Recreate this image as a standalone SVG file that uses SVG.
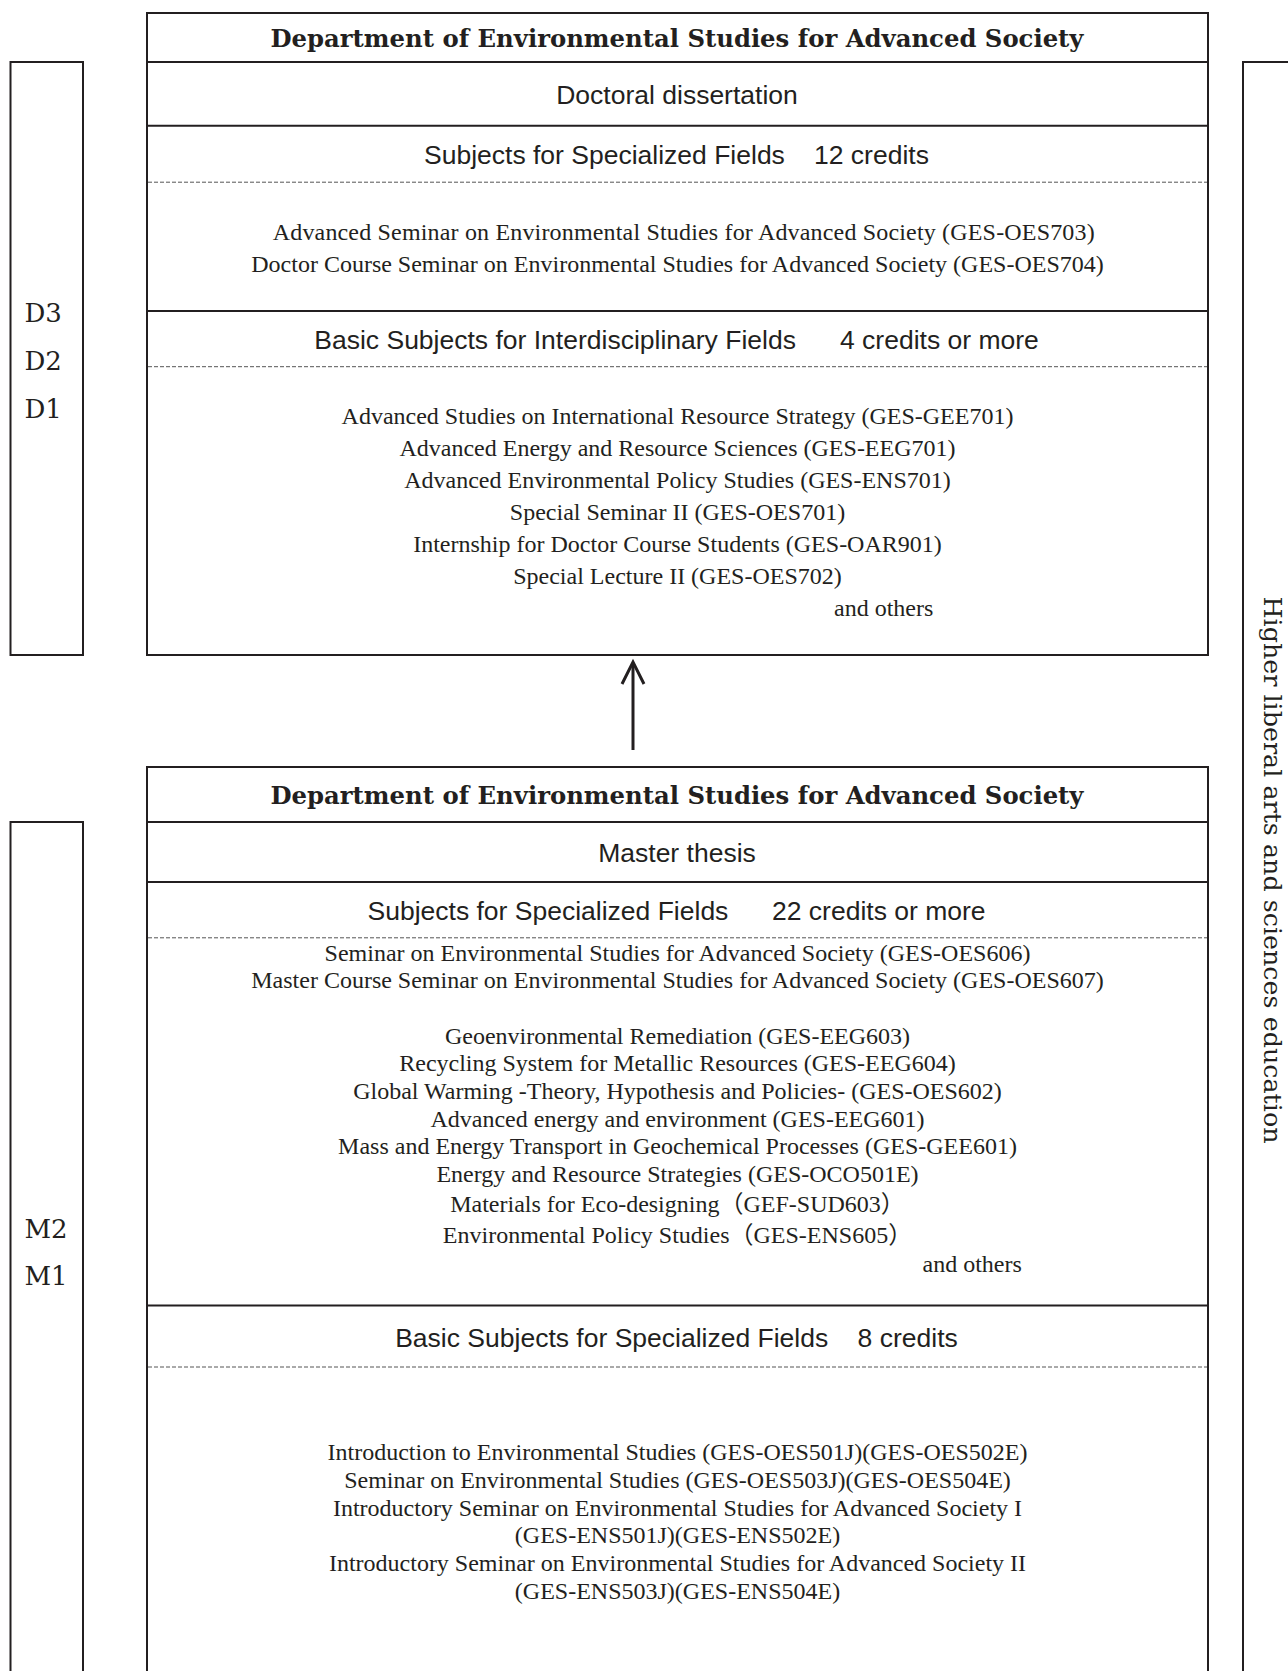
<svg xmlns="http://www.w3.org/2000/svg" width="1288" height="1671" viewBox="0 0 1288 1671">
<style>
.box{fill:none;stroke:#231f20;stroke-width:2}
.sep{stroke:#231f20;stroke-width:2}
.dash{stroke:#555;stroke-width:1;stroke-dasharray:4 2}
.hd{font-family:"DejaVu Serif Condensed","DejaVu Serif",serif;font-weight:bold;font-size:25px;fill:#231f20;text-anchor:middle}
.yr{font-family:"DejaVu Serif",serif;font-size:26px;fill:#231f20}
.sn{font-family:"Liberation Sans",Arial,sans-serif;font-size:26.5px;fill:#231f20}
.sr{font-family:"Liberation Serif","Noto Sans CJK JP",serif;font-size:24px;fill:#231f20;text-anchor:middle}
.sl{font-family:"Liberation Serif",serif;font-size:24px;fill:#231f20}
.vt{font-family:"DejaVu Serif",serif;font-size:25px;fill:#231f20;text-anchor:middle}
.c{text-anchor:middle}
</style>
<rect width="1288" height="1671" fill="#fff"/>

<g id="doctor-years">
<rect class="box" x="10.5" y="62" width="72.5" height="593"/>
<text class="yr" x="24.5" y="321.5">D3</text>
<text class="yr" x="24.5" y="369.5">D2</text>
<text class="yr" x="24.5" y="417.5">D1</text>
</g>

<g id="master-years">
<rect class="box" x="10.5" y="822" width="72.5" height="900"/>
<text class="yr" x="24.5" y="1238">M2</text>
<text class="yr" x="24.5" y="1285">M1</text>
</g>

<g id="liberal-arts">
<rect class="box" x="1243" y="62" width="100" height="1700"/>
<text class="vt" transform="translate(1264,870) rotate(90)" textLength="547" lengthAdjust="spacingAndGlyphs">Higher liberal arts and sciences education</text>
</g>

<g id="doctoral-course">
<rect class="box" x="147" y="13" width="1061" height="642"/>
<line class="sep" x1="147" y1="62" x2="1208" y2="62"/>
<line class="sep" x1="147" y1="125.7" x2="1208" y2="125.7"/>
<line class="dash" x1="148" y1="182.2" x2="1207" y2="182.2"/>
<line class="sep" x1="147" y1="311" x2="1208" y2="311"/>
<line class="dash" x1="148" y1="366.7" x2="1207" y2="366.7"/>
<text class="hd" x="677" y="47" textLength="813" lengthAdjust="spacingAndGlyphs">Department of Environmental Studies for Advanced Society</text>
<text class="sn c" x="677" y="103.5">Doctoral dissertation</text>
<text class="sn"><tspan x="424" y="163.8">Subjects for Specialized Fields</tspan><tspan x="814" y="163.8">12 credits</tspan></text>
<text class="sl" x="272.7" y="240" textLength="822" lengthAdjust="spacing">Advanced Seminar on Environmental Studies for Advanced Society (GES-OES703)</text>
<text class="sr" x="677.5" y="272">Doctor Course Seminar on Environmental Studies for Advanced Society (GES-OES704)</text>
<text class="sn"><tspan x="314.3" y="348.5">Basic Subjects for Interdisciplinary Fields</tspan><tspan x="840" y="348.5">4 credits or more</tspan></text>
<text class="sr" x="677.5" y="424">Advanced Studies on International Resource Strategy (GES-GEE701)</text>
<text class="sr" x="677.5" y="456">Advanced Energy and Resource Sciences (GES-EEG701)</text>
<text class="sr" x="677.5" y="488">Advanced Environmental Policy Studies (GES-ENS701)</text>
<text class="sr" x="677.5" y="520">Special Seminar II (GES-OES701)</text>
<text class="sr" x="677.5" y="552">Internship for Doctor Course Students (GES-OAR901)</text>
<text class="sr" x="677.5" y="584">Special Lecture II (GES-OES702)</text>
<text class="sl" x="834" y="616">and others</text>
</g>

<g id="master-course">
<rect class="box" x="147" y="767" width="1061" height="950"/>
<line class="sep" x1="147" y1="822" x2="1208" y2="822"/>
<line class="sep" x1="147" y1="882" x2="1208" y2="882"/>
<line class="dash" x1="148" y1="937.8" x2="1207" y2="937.8"/>
<line class="sep" x1="147" y1="1305.5" x2="1208" y2="1305.5"/>
<line class="dash" x1="148" y1="1367" x2="1207" y2="1367"/>
<text class="hd" x="677" y="803.5" textLength="813" lengthAdjust="spacingAndGlyphs">Department of Environmental Studies for Advanced Society</text>
<text class="sn c" x="677" y="861.7">Master thesis</text>
<text class="sn"><tspan x="367.5" y="920">Subjects for Specialized Fields</tspan><tspan x="772" y="920">22 credits or more</tspan></text>
<text class="sr" x="677.5" y="960.5">Seminar on Environmental Studies for Advanced Society (GES-OES606)</text>
<text class="sr" x="677.5" y="988">Master Course Seminar on Environmental Studies for Advanced Society (GES-OES607)</text>
<text class="sr" x="677.5" y="1043.5">Geoenvironmental Remediation (GES-EEG603)</text>
<text class="sr" x="677.5" y="1071">Recycling System for Metallic Resources (GES-EEG604)</text>
<text class="sr" x="677.5" y="1099">Global Warming -Theory, Hypothesis and Policies- (GES-OES602)</text>
<text class="sr" x="677.5" y="1126.5">Advanced energy and environment (GES-EEG601)</text>
<text class="sr" x="677.5" y="1154.3">Mass and Energy Transport in Geochemical Processes (GES-GEE601)</text>
<text class="sr" x="677.5" y="1182">Energy and Resource Strategies (GES-OCO501E)</text>
<text class="sr" x="677.5" y="1212">Materials for Eco-designing（GEF-SUD603）</text>
<text class="sr" x="677.5" y="1242.5">Environmental Policy Studies（GES-ENS605）</text>
<text class="sl" x="922.5" y="1271.5">and others</text>
<text class="sn"><tspan x="395.2" y="1346.5">Basic Subjects for Specialized Fields</tspan><tspan x="857.6" y="1346.5">8 credits</tspan></text>
<text class="sr" x="677.5" y="1460">Introduction to Environmental Studies (GES-OES501J)(GES-OES502E)</text>
<text class="sr" x="677.5" y="1487.7">Seminar on Environmental Studies (GES-OES503J)(GES-OES504E)</text>
<text class="sr" x="677.5" y="1515.5">Introductory Seminar on Environmental Studies for Advanced Society I</text>
<text class="sr" x="677.5" y="1543">(GES-ENS501J)(GES-ENS502E)</text>
<text class="sr" x="677.5" y="1571">Introductory Seminar on Environmental Studies for Advanced Society II</text>
<text class="sr" x="677.5" y="1598.6">(GES-ENS503J)(GES-ENS504E)</text>
</g>

<g id="connectors">
<line x1="633" y1="750" x2="633" y2="664" stroke="#231f20" stroke-width="3"/>
<polyline points="622,684 633,662 644,684" fill="none" stroke="#231f20" stroke-width="3" stroke-linejoin="miter"/>
</g>
</svg>
